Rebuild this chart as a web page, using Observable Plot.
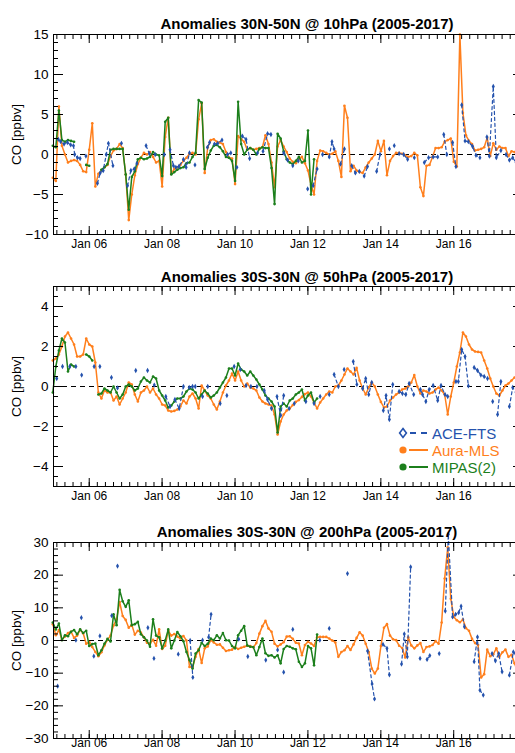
<!DOCTYPE html>
<html>
<head>
<meta charset="utf-8">
<script src="https://cdn.jsdelivr.net/npm/d3@7"></script>
<script src="https://cdn.jsdelivr.net/npm/@observablehq/plot@0.6"></script>
<style>
  html, body { margin: 0; padding: 0; overflow: hidden; background: #fff; }
  body { width: 515px; height: 753px; position: relative; font-family: "Liberation Sans", Arial, Helvetica, sans-serif; }
  .panel { position: absolute; left: 0; }
  .panel svg { max-width: none; overflow: visible; }
  .title { position: absolute; left: 307px; transform: translateX(-50%); font-weight: bold; font-size: 15px; line-height: 16px; color: #000; white-space: nowrap; }
  .legend-row { position: absolute; left: 398px; height: 16px; display: flex; align-items: center; font-size: 15px; white-space: nowrap; }
  .legend-row svg { width: 34px; height: 16px; flex: none; }
</style>
</head>
<body>
<div class="panel" id="p1" style="top:24px"></div>
<div class="panel" id="p2" style="top:276px"></div>
<div class="panel" id="p3" style="top:532px"></div>
<div class="title" style="top:16px">Anomalies 30N-50N @ 10hPa (2005-2017)</div>
<div class="title" style="top:269px">Anomalies 30S-30N @ 50hPa (2005-2017)</div>
<div class="title" style="top:524px">Anomalies 30S-30N @ 200hPa (2005-2017)</div>
<div id="legend"></div>
<script>
// Monthly CO anomalies (ppbv), one value per month starting January 2005.
// ACE-FTS is sampled irregularly: month offsets from January 2005 plus values.

// ---- 30N-50N @ 10 hPa ----
const aura10 = [-2.9,-3.3,6.0,1.1,0.0,-1.0,-0.8,-0.7,-0.8,-1.3,-2.1,-2.2,
  0.6,3.9,-4.0,-2.4,-2.0,-1.6,-1.3,-0.2,0.5,0.7,1.3,0.8,
  -2.5,-8.2,-5.0,-2.6,-1.2,-0.4,0.2,0.0,0.3,-0.3,-1.0,-0.8,
  -4.0,2.2,4.6,-2.4,-1.8,-1.6,-1.3,-0.8,-0.4,0.1,0.2,0.0,
  4.4,6.4,-2.3,0.9,1.8,1.9,1.6,1.5,1.3,0.3,-0.4,-0.5,
  -3.7,2.3,1.9,1.6,0.6,0.8,0.6,0.7,0.8,0.9,2.4,1.3,
  -1.0,-4.1,1.0,1.8,1.0,0.3,-0.5,-0.9,-1.1,-0.6,-0.3,-1.1,
  -2.0,-3.8,-5.0,-0.8,0.5,0.4,0.2,0.0,0.1,0.4,-0.8,-2.8,
  6.1,4.6,-2.1,-1.4,-2.0,-2.2,-2.3,-1.6,-1.0,-0.5,0.0,1.7,
  0.4,1.7,-2.6,-0.8,-0.2,0.2,0.2,0.1,-0.1,-0.3,-0.2,0.2,
  -0.1,-4.1,-5.2,-1.4,-1.3,-0.3,0.8,0.8,0.9,1.6,1.8,2.0,
  -0.9,-1.5,15.0,5.2,2.4,1.7,1.3,0.5,0.6,0.7,0.9,2.1,
  -0.2,1.4,0.6,1.0,0.8,0.8,-0.2,0.4,0.3];
const mipas10 = [1.1,0.9,5.5,1.8,1.6,1.8,1.7,1.6,null,null,null,-1.3,
  -1.4,null,null,null,-1.9,-1.6,-1.2,0.6,0.7,0.7,0.7,0.7,
  -2.5,-6.9,-2.8,-2.1,-0.6,-0.4,-0.6,-0.5,-0.3,0.3,0.0,-0.1,
  -2.7,4.1,4.6,-2.5,-2.2,-1.9,-1.7,-1.6,-1.1,-1.0,-0.3,0.2,
  6.8,6.5,-1.8,-0.4,0.5,1.1,1.2,0.9,0.4,-0.3,-0.4,-0.8,
  -3.3,6.6,1.3,0.0,0.6,0.8,0.6,0.0,0.7,0.9,0.8,0.8,
  -1.7,-6.2,2.6,2.0,0.4,-0.6,-1.0,-1.2,-0.8,-0.3,-1.0,-0.8,
  3.0,-5.0,-0.6];
const aceMonth10 = [1.8,2.6,3.7,4.8,5.9,6.8,7.2,8.1,9.0,10.9,14.7,15.6,16.6,17.6,18.3,19.8,22.6,24.6,25.7,26.8,27.7,
  30.7,31.8,33.7,36.7,38.6,39.7,40.5,41.5,43.0,43.9,45.0,46.8,50.9,51.6,53.2,54.3,55.7,57.5,58.6,60.6,62.4,63.6,64.8,
  67.4,69.2,70.7,71.8,76.0,77.3,79.0,80.8,83.9,85.7,87.0,88.8,91.0,91.9,92.6,94.7,96.0,98.4,99.6,100.9,102.5,103.6,
  106.6,107.7,110.8,112.4,114.0,115.5,116.8,119.0,122.3,123.7,125.2,126.7,128.7,129.7,131.6,132.7,134.6,135.7,136.8,
  138.2,139.3,140.6,142.9,143.7,145.0,146.0,147.5,149.2,150.3,151.4,152.5];
const aceValue10 = [1.9,1.6,1.3,1.5,1.2,1.1,0.0,-0.4,-0.5,-0.2,-3.6,-2.3,-2.0,0.0,1.4,-1.4,1.4,-3.9,-2.0,-1.8,-1.1,
  1.1,0.1,0.0,0.0,0.6,-1.4,-1.6,-1.5,-0.6,-1.6,0.2,-1.3,0.9,1.5,1.3,1.4,1.8,0.0,0.2,-1.6,2.3,1.9,-0.5,
  0.2,0.4,2.6,2.5,0.2,-0.7,-1.4,-0.8,-4.3,-3.9,-1.8,0.0,-0.3,1.6,0.7,-1.2,0.7,-1.4,-2.3,-2.1,-2.7,-1.5,
  -2.1,0.0,0.7,1.1,0.1,0.0,-0.6,-0.4,-1.0,-0.4,-0.3,-0.3,2.5,0.0,1.5,-1.5,6.2,1.7,1.6,
  1.0,-0.1,-0.4,2.2,-0.2,8.5,-0.4,0.5,0.0,-0.7,-0.4,-1.0];

// ---- 30S-30N @ 50 hPa ----
const aura50 = [1.3,1.4,1.6,2.0,2.5,2.7,2.4,2.1,1.5,1.5,1.6,2.4,
  2.1,2.0,1.2,-0.3,-0.6,-0.2,-0.3,-0.3,-0.7,-0.5,-0.9,-0.6,
  -0.3,0.2,0.1,-0.4,-0.75,-0.3,-0.2,0.0,-0.3,-0.1,-0.4,-0.6,
  -0.9,-0.95,-1.2,-1.25,-1.22,-1.15,-1.0,-0.7,-0.85,-0.5,-0.35,-0.6,
  -1.1,0.05,-0.2,-0.45,-0.6,-0.9,-1.15,-0.75,-0.3,0.05,0.3,0.65,
  0.3,0.75,0.3,0.0,0.15,-0.05,-0.1,-0.2,-0.55,-0.75,-0.85,-0.9,
  -0.95,-1.4,-2.4,-1.75,-1.4,-1.2,-1.1,-0.93,-0.77,-0.68,-0.52,-0.38,
  -0.3,-0.5,-0.8,-1.1,-0.8,-0.6,-0.4,-0.25,-0.3,0.0,0.05,0.3,
  0.6,0.9,0.75,0.6,0.93,0.3,-0.1,-0.4,-0.05,0.2,0.0,-0.4,
  -0.77,-1.05,-1.0,-0.7,-0.55,-0.4,-0.3,-0.15,-0.1,0.0,0.2,0.57,
  0.0,-0.35,-0.2,-0.25,-0.35,-0.3,-0.15,-0.05,-0.2,-0.4,-1.4,-0.5,
  0.2,1.0,1.7,2.7,2.5,2.1,1.85,1.75,1.73,1.7,1.3,0.9,
  0.4,0.0,-0.35,-0.45,-0.2,0.05,0.15,0.3,0.45];
const mipas50 = [-0.3,1.0,1.8,2.4,2.2,0.75,1.1,1.0,null,null,null,1.6,
  1.5,1.3,null,-0.4,-0.35,-0.1,-0.2,-0.3,0.0,-0.3,-0.6,-0.4,
  0.0,0.1,0.0,-0.2,-0.1,0.25,0.45,0.3,0.2,0.5,0.4,-0.2,
  -0.45,-0.7,-1.05,-0.95,-0.75,-0.6,-0.6,-0.5,-0.25,-0.1,-0.15,-0.3,
  -0.6,-0.4,-0.2,-0.35,-0.55,-0.45,-0.3,-0.05,0.2,0.45,0.9,0.9,
  0.55,1.15,0.85,0.75,0.55,0.75,0.55,0.35,0.1,-0.15,-0.45,-0.6,
  -0.75,-1.0,-2.3,-1.0,-0.85,-1.0,-0.7,-0.6,-0.4,-0.3,-0.15,-0.7,
  -0.45,-0.3,-0.8,-0.6];
const aceMonth50 = [1.3,3.2,5.6,7.6,9.5,13.6,15.5,19.3,21.3,27.3,31.2,33.4,37.2,38.6,40.2,41.6,43.0,44.9,46.0,46.9,
  49.3,51.0,55.1,57.3,59.7,61.7,63.6,65.2,67.2,69.6,70.7,72.0,73.8,75.0,76.0,77.8,79.5,83.3,86.0,88.0,91.0,92.6,
  94.0,95.9,98.9,100.1,102.0,103.0,104.0,105.0,108.8,109.7,110.8,111.9,114.0,115.1,116.2,117.3,118.8,121.0,121.7,
  122.8,123.9,125.2,126.7,127.8,129.1,130.0,132.7,133.5,134.6,135.7,136.8,138.7,139.8,140.9,142.0,143.1,144.8,
  146.4,147.5,150.3,151.4,152.5];
const aceValue50 = [0.4,1.0,1.0,1.0,0.57,1.0,1.0,0.45,-0.07,0.8,0.8,0.07,-0.5,-1.0,-0.65,-1.1,0.0,-0.05,0.0,0.0,
  -0.5,0.0,-0.85,-0.45,1.0,0.85,0.05,0.0,0.0,-0.2,-0.65,-1.1,-0.5,-1.45,-0.45,-1.1,-0.85,-0.75,-0.85,-0.5,-0.4,0.6,
  0.0,0.85,1.25,0.1,-0.1,0.4,-0.4,0.2,-1.2,-0.45,-1.65,0.1,-0.25,-0.35,-0.4,0.15,-0.4,-0.15,-0.4,
  -0.75,-0.15,0.05,-0.7,0.05,-0.4,-0.5,0.25,0.25,1.85,1.5,0.03,0.95,0.8,0.57,0.5,0.4,-0.75,
  -1.4,0.25,-1.0,-0.05,-0.3];

// ---- 30S-30N @ 200 hPa ----
const aura200 = [5.0,1.6,3.2,0.2,1.2,2.3,2.7,0.8,1.5,3.3,2.2,-1.0,
  -0.5,-2.0,-3.5,-4.8,-3.6,-1.5,0.2,1.5,4.6,6.5,11.8,7.5,
  6.3,3.9,4.8,1.8,3.0,2.4,1.0,-0.7,-0.9,0.2,-1.6,3.4,
  -2.6,-1.6,3.0,1.5,2.0,1.2,0.6,1.4,0.0,-8.1,-8.1,-5.0,
  -2.6,-6.9,-2.4,-1.8,0.1,-0.6,-1.3,-1.2,-2.2,-3.2,-3.0,-2.8,
  -2.0,-2.6,-2.2,-1.9,-1.6,-1.7,-2.1,-0.8,2.1,4.4,6.0,3.7,
  2.7,-1.0,-1.8,-1.2,-0.5,1.2,1.3,0.5,-0.7,-0.9,-4.5,-1.4,
  -0.4,-0.9,-1.7,1.0,1.1,1.1,1.1,0.6,0.0,-0.6,-5.0,-3.5,
  -3.0,-1.7,-2.9,-1.2,0.8,2.5,1.5,-1.0,-3.5,-8.6,-10.1,-8.6,
  -1.7,3.9,5.0,1.5,0.4,0.1,-1.6,-2.3,-5.2,1.0,-1.5,-2.4,
  -1.5,-0.8,-3.5,-2.0,-1.8,-1.4,-0.2,-1.0,5.5,19.0,28.5,12.8,
  7.2,6.2,5.6,6.4,3.8,3.0,0.5,-0.8,-1.4,-11.3,-10.3,-2.8,
  -4.8,-4.2,-2.4,-5.0,-3.6,-2.8,-5.0,-4.4,-7.0,-9.6];
const mipas200 = [5.5,3.4,5.2,0.1,1.6,1.3,2.7,3.2,1.9,3.4,2.3,3.0,
  -1.7,-1.1,-0.9,-4.5,-3.0,-1.0,0.5,-0.3,8.0,4.7,15.5,12.0,
  10.3,12.3,4.7,5.0,5.7,1.9,1.0,0.0,-1.9,6.5,1.5,1.0,
  -2.4,0.0,3.4,-2.4,0.0,2.6,1.3,-0.2,-3.5,-6.0,-8.6,-4.0,
  -3.0,-0.7,-1.7,-1.0,0.6,0.1,1.6,0.6,2.3,0.1,0.0,-1.7,
  -2.4,1.6,3.0,4.4,-1.5,-1.9,-2.0,-4.5,-2.0,0.6,-3.9,-4.7,
  -4.5,-5.2,-4.5,-7.0,-2.6,-1.7,-1.9,-2.4,-2.7,-6.5,-8.1,-7.0,
  -1.7,-2.4,-7.6,1.8];
const aceMonth200 = [1.6,7.6,9.4,13.5,15.5,19.4,21.3,31.3,33.3,41.3,45.2,46.1,49.3,51.3,52.1,61.2,64.2,70.1,74.0,76.0,
  79.0,87.9,91.0,97.0,103.6,105.1,105.9,108.7,110.0,110.8,114.8,115.7,116.7,117.8,120.9,123.2,124.1,127.2,129.2,
  130.2,131.6,132.6,133.6,134.4,135.5,138.7,139.8,140.6,141.7,144.6,145.7,146.8,147.9,150.3,151.6,152.3];
const aceValue200 = [-14.0,0.1,7.0,-4.8,1.4,7.6,22.8,3.9,-5.5,-4.2,0.0,-11.3,0.1,1.0,8.0,0.4,-4.9,-6.0,-2.9,-9.7,
  3.4,0.1,3.7,20.5,-3.2,-13.3,-17.9,-1.2,-2.4,-10.5,-7.2,2.0,-5.0,22.5,-5.5,-5.8,-4.6,-4.0,9.0,
  32.5,7.2,8.0,8.5,10.5,4.2,-6.5,1.1,-15.2,-16.7,-4.0,-6.2,-4.0,-9.6,-10.6,-3.5,-4.0];

// ---- shared axis settings ----
const xTickYears = [2006, 2008, 2010, 2012, 2014, 2016];
const seriesNames = ["ACE-FTS", "Aura-MLS", "MIPAS(2)"];
const ORANGE = "#ff7f1c", GREEN = "#1c7f1c", BLUE = "#2452ad";
const FONT = '"Liberation Sans", Arial, Helvetica, sans-serif';

const T0 = Date.UTC(2005, 0, 1);
const monthDate = m => new Date(T0 + m * 30.436875 * 864e5);
const xDomain = [new Date(Date.UTC(2005, 0, 8)), new Date(Date.UTC(2017, 10, 20))];
const xMajor = xTickYears.map(y => new Date(Date.UTC(y, 0, 1)));
// nine minor intervals between labelled ticks (two years apart)
const minorStep = (Date.UTC(2008, 0, 1) - Date.UTC(2006, 0, 1)) / 9;
const xMinor = d3.range(-6, 60)
  .map(k => new Date(Date.UTC(2006, 0, 1) + k * minorStep))
  .filter(d => d >= xDomain[0] && d <= xDomain[1]);
const fmtMonth = d3.utcFormat("%b %y");

function axes(yMajor, yMinor, xPad) {
  const noText = {fill: "none", label: null};
  return [
    Plot.axisY(yMajor, {anchor: "left", tickSize: 0, tickPadding: 5, fontSize: 13.5,
      label: "CO [ppbv]", labelAnchor: "center", labelArrow: "none", labelOffset: 42}),
    Plot.axisY(yMajor, {anchor: "left", tickSize: 10, insetLeft: 10, ...noText}),
    Plot.axisY(yMinor, {anchor: "left", tickSize: 5, insetLeft: 5, ...noText}),
    Plot.axisY(yMajor, {anchor: "right", tickSize: 10, insetRight: 10, ...noText}),
    Plot.axisY(yMinor, {anchor: "right", tickSize: 5, insetRight: 5, ...noText}),
    Plot.axisX(xMajor, {anchor: "bottom", tickSize: 0, tickPadding: xPad, tickFormat: fmtMonth, fontSize: 12, label: null}),
    Plot.axisX(xMajor, {anchor: "bottom", tickSize: 8, insetBottom: 8, ...noText}),
    Plot.axisX(xMinor, {anchor: "bottom", tickSize: 4, insetBottom: 4, ...noText}),
    Plot.axisX(xMajor, {anchor: "top", tickSize: 8, insetTop: 8, ...noText}),
    Plot.axisX(xMinor, {anchor: "top", tickSize: 4, insetTop: 4, ...noText})
  ];
}

function drawPanel(id, {aura, mipas, aceMonth, aceValue, yDomain, yMajor, yMinorStep, frameHeight, xPad}) {
  const auraRows = aura.map((v, i) => ({date: monthDate(i), value: v}));
  const mipasRows = mipas.map((v, i) => ({date: monthDate(i), value: v}));
  // ACE-FTS points closer than ~1.5 months are joined by the dashed line
  let seg = 0;
  const aceRows = aceMonth.map((m, i) => {
    if (i > 0 && m - aceMonth[i - 1] > 1.5) seg++;
    return {date: monthDate(m), value: aceValue[i], seg};
  });
  const yMinor = d3.range(yDomain[0], yDomain[1] + 1e-9, yMinorStep);
  const marginTop = 10, marginBottom = 21;
  const chart = Plot.plot({
    width: 523,
    height: marginTop + frameHeight + marginBottom,
    marginLeft: 53, marginRight: 1, marginTop, marginBottom,
    style: {fontFamily: FONT, fontSize: "13px", color: "#000", background: "transparent", maxWidth: "none", overflow: "visible"},
    x: {type: "utc", domain: xDomain},
    y: {domain: yDomain},
    marks: [
      Plot.ruleY([0], {stroke: "#000", strokeWidth: 1.1, strokeDasharray: "5,4"}),
      Plot.line(auraRows, {x: "date", y: "value", stroke: ORANGE, strokeWidth: 1.5}),
      Plot.dot(auraRows, {x: "date", y: "value", r: 1.3, fill: ORANGE}),
      Plot.line(mipasRows, {x: "date", y: "value", stroke: GREEN, strokeWidth: 1.5}),
      Plot.dot(mipasRows, {x: "date", y: "value", r: 1.3, fill: GREEN}),
      Plot.line(aceRows, {x: "date", y: "value", z: "seg", stroke: BLUE, strokeWidth: 1.2, strokeDasharray: "3,3"}),
      Plot.dot(aceRows, {x: "date", y: "value", symbol: "diamond", r: 1.6, fill: BLUE}),
      Plot.frame({stroke: "#000"}),
      ...axes(yMajor, yMinor, xPad)
    ]
  });
  document.getElementById(id).append(chart);
}

drawPanel("p1", {aura: aura10, mipas: mipas10, aceMonth: aceMonth10, aceValue: aceValue10,
  yDomain: [-10, 15], yMajor: [-10, -5, 0, 5, 10, 15], yMinorStep: 1, frameHeight: 200, xPad: 5});
drawPanel("p2", {aura: aura50, mipas: mipas50, aceMonth: aceMonth50, aceValue: aceValue50,
  yDomain: [-5, 5], yMajor: [-4, -2, 0, 2, 4], yMinorStep: 0.5, frameHeight: 200, xPad: 5});
drawPanel("p3", {aura: aura200, mipas: mipas200, aceMonth: aceMonth200, aceValue: aceValue200,
  yDomain: [-30, 30], yMajor: [-30, -20, -10, 0, 10, 20, 30], yMinorStep: 2, frameHeight: 196, xPad: 0});

// legend inside the middle panel
const legendColors = [BLUE, ORANGE, GREEN];
const legendTops = [425, 442, 459];
const legend = document.getElementById("legend");
seriesNames.forEach((name, i) => {
  const c = legendColors[i];
  const row = document.createElement("div");
  row.className = "legend-row";
  row.style.top = legendTops[i] + "px";
  const symbol = i === 0
    ? `<path d="M5 3.6 L8.4 8 L5 12.4 L1.6 8 Z" fill="#fff" stroke="${c}" stroke-width="1.6"/>
       <line x1="12" y1="8" x2="31" y2="8" stroke="${c}" stroke-width="2" stroke-dasharray="6,5"/>`
    : `<circle cx="5" cy="8" r="3.6" fill="${c}"/>
       <line x1="11" y1="8" x2="30" y2="8" stroke="${c}" stroke-width="2"/>`;
  row.innerHTML = `<svg viewBox="0 0 34 16">${symbol}</svg><span style="color:${c}">${name}</span>`;
  legend.append(row);
});
</script>
</body>
</html>
